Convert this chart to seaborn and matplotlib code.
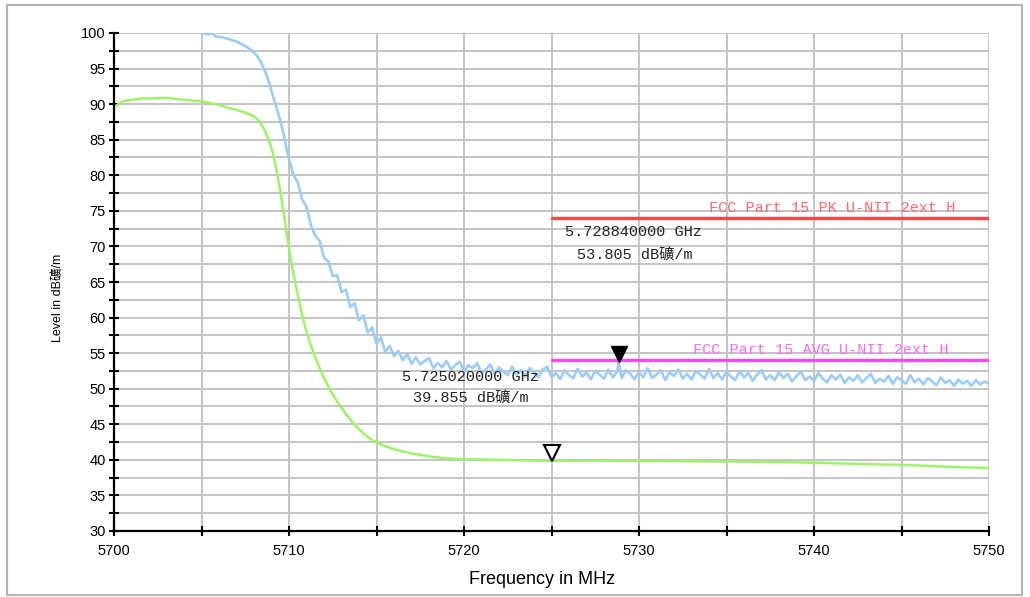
import numpy as np
import pandas as pd
import matplotlib
matplotlib.use("Agg")
import matplotlib.pyplot as plt
from matplotlib.patches import Rectangle
from matplotlib.ticker import MultipleLocator
import matplotlib.transforms as mtransforms
import seaborn as sns

# ---- peak trace (MaxPeak), upper band edge sweep ----
pk_edge_freq = [5700.0, 5700.15, 5704.85, 5705.0, 5705.4, 5705.6, 5705.8, 5706.2,
                5706.6, 5707.0, 5707.4, 5707.8, 5708.1, 5708.4, 5708.7, 5708.9,
                5709.1, 5709.3, 5709.5, 5709.7, 5709.85]
pk_edge_level = [100.0, 101.5, 101.2, 100.0, 99.8, 100.0, 99.5, 99.4,
                 99.1, 98.8, 98.3, 97.7, 97.0, 95.9, 94.2, 92.7,
                 91.0, 89.4, 87.7, 85.7, 83.8]

# sweep points 5710 ... 5750 MHz, 0.25 MHz spacing
pk_sweep_start, pk_sweep_step = 5710.0, 0.25
pk_sweep_level = [
    # 5710.00 - 5716.75
    82.3, 80.1, 79.0, 76.6, 75.6, 73.0, 71.5, 70.8, 68.4, 67.9,
    65.8, 66.0, 63.6, 63.9, 61.5, 62.0, 59.6, 60.3, 57.9, 58.6,
    56.3, 57.2, 55.2, 56.0, 54.6, 55.3, 54.0, 54.9,
    # 5717.00 - 5724.75
    53.5, 54.4, 53.4, 53.9, 54.3, 52.9, 53.6, 53.0,
    53.9, 52.7, 53.3, 53.8, 52.4, 53.3, 52.9, 53.6,
    52.2, 52.7, 53.4, 52.1, 53.0, 52.4, 51.9, 53.1,
    52.0, 52.6, 51.7, 52.9, 52.3, 51.6, 52.7, 53.1,
    # 5725.00 - 5728.75
    51.6, 52.2, 51.4, 52.6, 51.9, 51.5, 52.8, 51.7,
    52.3, 51.3, 52.5, 52.0, 51.4, 52.7, 51.6, 52.4,
    # 5729.00 - 5736.75
    51.5, 52.6, 52.1, 51.3, 52.4, 51.6, 52.9, 51.5,
    52.0, 52.6, 51.2, 52.3, 51.8, 52.7, 51.4, 52.1,
    51.3, 52.5, 52.0, 51.4, 52.8, 51.5, 52.2, 51.3,
    52.4, 51.7, 51.2, 52.5, 51.6, 52.2, 51.1, 52.0,
    # 5737.00 - 5744.75
    52.6, 51.3, 51.9, 51.2, 52.3, 51.5, 52.1, 51.0,
    51.8, 52.4, 51.2, 51.7, 51.1, 52.2, 51.4, 50.9,
    51.9, 51.3, 52.0, 50.8, 51.6, 51.1, 51.9, 50.9,
    51.5, 52.1, 50.8, 51.4, 51.0, 51.8, 50.7, 51.6,
    # 5745.00 - 5750.00
    51.2, 50.7, 51.9, 50.9, 51.4, 50.6, 51.5, 51.0,
    50.5, 51.6, 50.8, 51.2, 50.4, 51.3, 50.7, 51.1,
    50.4, 51.2, 50.6, 51.0, 50.7,
]

# ---- average trace (Average) ----
av_freq = [5700.0, 5700.5, 5701.0, 5701.5, 5702.0, 5703.0, 5704.0, 5705.0,
           5706.0, 5706.5, 5707.0, 5707.5, 5708.0, 5708.3, 5708.6, 5708.9,
           5709.1, 5709.3, 5709.5, 5709.7, 5709.9, 5710.1, 5710.3, 5710.5,
           5710.7, 5711.0, 5711.3, 5711.6, 5712.0, 5712.4, 5712.8, 5713.3,
           5713.8, 5714.3, 5714.8, 5715.5, 5716.3, 5717.0, 5718.0, 5719.0,
           5720.0, 5722.0, 5725.0, 5728.0, 5730.0, 5733.0, 5736.0, 5740.0,
           5743.0, 5745.0, 5748.0, 5750.0]
av_level = [89.6, 90.4, 90.6, 90.8, 90.8, 90.9, 90.6, 90.4,
            89.9, 89.5, 89.2, 88.8, 88.3, 87.6, 86.4, 84.6,
            82.9, 80.6, 77.8, 74.6, 71.3, 68.3, 65.6, 63.2,
            60.9, 58.0, 55.7, 53.8, 51.5, 49.6, 48.0, 46.3,
            44.8, 43.6, 42.7, 41.9, 41.3, 40.9, 40.5, 40.2,
            40.1, 40.0, 39.86, 39.9, 39.85, 39.8, 39.75, 39.6,
            39.4, 39.3, 39.0, 38.85]

# ---- markers ----
m1_freq_ghz, m1_level = 5.728840000, 53.805   # peak marker (filled)
m2_freq_ghz, m2_level = 5.725020000, 39.855   # average marker (open)

# ---- limit lines ----
limit_start, limit_stop = 5725.0, 5750.0
pk_limit = 74.0
av_limit = 54.0
pk_limit_name = "FCC Part 15 PK U-NII 2ext H"
av_limit_name = "FCC Part 15 AVG U-NII 2ext H"

unit = "dB礦/m"
x_label = "Frequency in MHz"
y_label = "Level in " + unit
x_ticks = [5700, 5710, 5720, 5730, 5740, 5750]
y_ticks = [30, 35, 40, 45, 50, 55, 60, 65, 70, 75, 80, 85, 90, 95, 100]

# ---------------------------------------------------------------
sns.set_theme(style="white")
plt.rcParams["font.family"] = ["Liberation Sans", "Noto Sans CJK SC", "DejaVu Sans"]
mono = ["Liberation Mono", "Noto Sans CJK SC", "DejaVu Sans"]

sweep_freq = pk_sweep_start + pk_sweep_step * np.arange(len(pk_sweep_level))
pk = pd.DataFrame({
    "freq": list(pk_edge_freq) + list(sweep_freq) + [m1_freq_ghz * 1000],
    "level": list(pk_edge_level) + list(pk_sweep_level) + [m1_level],
}).sort_values("freq")
av = pd.DataFrame({"freq": av_freq, "level": av_level})

fig = plt.figure(figsize=(10.30, 5.97), dpi=100)
ax = fig.add_axes([114 / 1030, 1 - 531 / 597, 875 / 1030, 498 / 597])

grid_c = "#c4c4c4"
ax.set_xlim(5700, 5750)
ax.set_ylim(30, 100)
ax.xaxis.set_major_locator(MultipleLocator(10))
ax.xaxis.set_minor_locator(MultipleLocator(5))
ax.yaxis.set_major_locator(MultipleLocator(5))
ax.yaxis.set_minor_locator(MultipleLocator(2.5))
ax.grid(True, which="both", color=grid_c, linewidth=1.4)
ax.set_axisbelow(True)

sns.lineplot(data=av, x="freq", y="level", ax=ax, color="#9ef26a",
             linewidth=1.8, estimator=None, sort=False, zorder=3)
sns.lineplot(data=pk, x="freq", y="level", ax=ax, color="#9ccbf7",
             linewidth=1.9, estimator=None, sort=False, zorder=4)

lim = pd.DataFrame({"freq": [limit_start, limit_stop],
                    "pk": [pk_limit, pk_limit], "av": [av_limit, av_limit]})
sns.lineplot(data=lim, x="freq", y="pk", ax=ax, color="#ff4646",
             linewidth=2.4, zorder=5)
sns.lineplot(data=lim, x="freq", y="av", ax=ax, color="#ff46ff",
             linewidth=2.4, zorder=5)

ax.text(5748.1, pk_limit + 0.4, pk_limit_name, color="#ff6a6a",
        family=mono, fontsize=11, ha="right", va="bottom", zorder=6)
ax.text(5747.7, av_limit + 0.4, av_limit_name, color="#ff6aff",
        family=mono, fontsize=11, ha="right", va="bottom", zorder=6)

# markers drawn with the tip on the trace point
ms = 11
tip = mtransforms.offset_copy(ax.transData, fig=fig, x=0, y=ms / 2, units="points")
ax.plot([m1_freq_ghz * 1000], [m1_level], marker="v", markersize=ms,
        color="black", transform=tip, zorder=8, clip_on=False)
ax.plot([m2_freq_ghz * 1000], [m2_level], marker="v", markersize=ms,
        markerfacecolor="white", markeredgecolor="black", markeredgewidth=1.5,
        transform=tip, zorder=8, clip_on=False)

ax.text(5725.75, 72.0, f"{m1_freq_ghz:.9f} GHz", family=mono, fontsize=11,
        color="#222222", ha="left", va="center", zorder=7)
ax.text(5726.45, 68.8, f"{m1_level:.3f} {unit}", family=mono, fontsize=11,
        color="#222222", ha="left", va="center", zorder=7)
ax.text(5716.45, 51.6, f"{m2_freq_ghz:.9f} GHz", family=mono, fontsize=11,
        color="#222222", ha="left", va="center", zorder=7)
ax.text(5717.1, 48.8, f"{m2_level:.3f} {unit}", family=mono, fontsize=11,
        color="#222222", ha="left", va="center", zorder=7)

# axes styling
for side in ("top", "right"):
    ax.spines[side].set_visible(False)
for side in ("left", "bottom"):
    ax.spines[side].set_color("black")
    ax.spines[side].set_linewidth(1.6)
    ax.spines[side].set_zorder(9)
ax.set_xticks(x_ticks)
ax.set_yticks(y_ticks)
ax.set_xticklabels([str(t) for t in x_ticks])
ax.set_yticklabels([str(t) for t in y_ticks])
ax.tick_params(axis="both", which="both", direction="inout", length=7,
               width=1.5, color="black", labelsize=10.5, labelcolor="black")
ax.tick_params(axis="x", which="both", pad=6, bottom=True)
ax.tick_params(axis="y", which="both", pad=2.5, left=True)

ax.set_xlabel(x_label, fontsize=13, color="black")
ax.set_ylabel(y_label, fontsize=9, color="black")
ax.xaxis.set_label_coords((542 - 114) / 875, (531 - 571) / 498)
ax.yaxis.set_label_coords((64 - 114) / 875, (531 - 298) / 498)

# outer frame
fig.patches.append(Rectangle((7 / 1030, 2 / 597), 1015 / 1030, 590 / 597,
                             transform=fig.transFigure, fill=False,
                             edgecolor="#b4b4b4", linewidth=1.5))

fig.savefig("out.png", dpi=100)
